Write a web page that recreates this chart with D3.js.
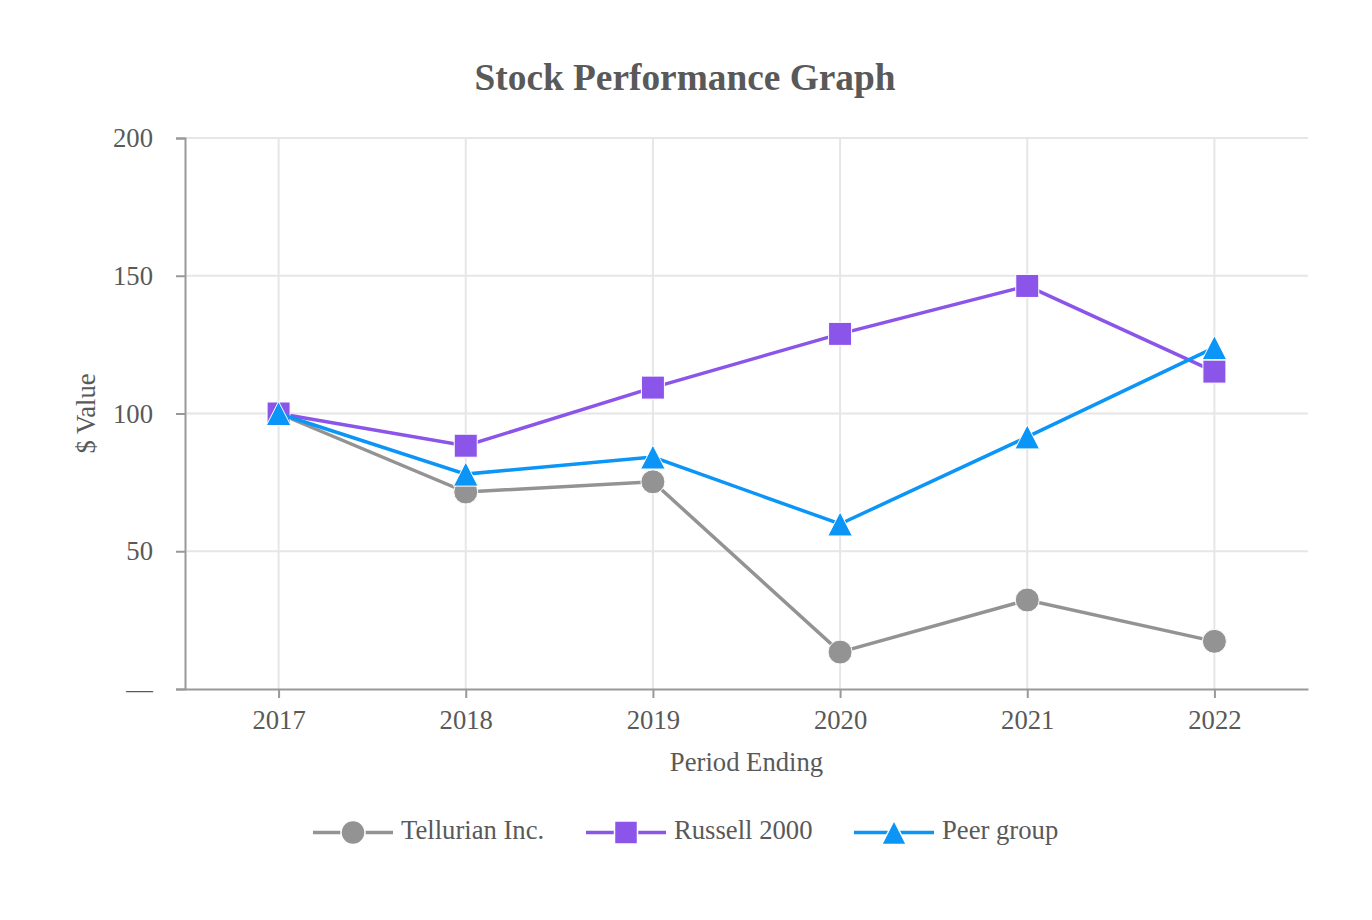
<!DOCTYPE html>
<html><head><meta charset="utf-8">
<script src="https://cdn.jsdelivr.net/npm/d3@7"></script>
<style>body{margin:0;background:#fff}svg{display:block}text{font-family:"Liberation Serif","Times New Roman",serif}</style>
</head><body><svg id="c" width="1372" height="920"></svg>
<script>
const years = ["2017","2018","2019","2020","2021","2022"];
const tellurian = [100, 71.5, 75.2, 13.4, 32.3, 17.3];
const russell = [100, 88.3, 109.4, 128.9, 146.3, 115.2];
const peer = [100, 78.0, 84.2, 59.9, 91.5, 123.9];
const yTicks = [0, 50, 100, 150, 200];
const seriesNames = ["Tellurian Inc.", "Russell 2000", "Peer group"];

const colors = ["#939393", "#8b55e9", "#0b95f7"];
const seriesVals = [tellurian, russell, peer];
const FS = 26.67;

function marker(s) {
  if (s === 0) return d3.symbol().type(d3.symbolCircle).size(Math.PI * 12 * 12)();
  if (s === 1) return "M-11.5,-11.5H11.5V11.5H-11.5Z";
  return "M0,-12L12.3,12L-12.3,12Z";
}

const svg = d3.select("#c");
const L = 185, R = 1308, T = 138, B = 689;
const x = d3.scalePoint().domain(years).range([L, R]).padding(0.5);
const y = d3.scaleLinear().domain([0, 200]).range([B, T]);
const txt = "#595959";

// title
svg.append("text").attr("x", 685).attr("y", 90).attr("text-anchor", "middle")
  .attr("font-size", 37.33).attr("font-weight", "bold").attr("fill", txt).text("Stock Performance Graph");

// grid
svg.append("g").selectAll("line").data(yTicks.filter(d => d > 0)).join("line")
  .attr("x1", L).attr("x2", R).attr("y1", d => y(d)).attr("y2", d => y(d))
  .attr("stroke", "#e6e6e6").attr("stroke-width", 2);
svg.append("g").selectAll("line").data(years).join("line")
  .attr("x1", d => x(d)).attr("x2", d => x(d)).attr("y1", T).attr("y2", B)
  .attr("stroke", "#e6e6e6").attr("stroke-width", 2);

// y axis
const ya = svg.append("g").attr("transform", `translate(${L},0)`)
  .call(d3.axisLeft(y).tickValues(yTicks).tickSize(9).tickPadding(23).tickFormat(d => d === 0 ? "—" : d));
ya.select(".domain").attr("stroke", "#999").attr("stroke-width", 2);
ya.selectAll(".tick line").attr("stroke", "#999").attr("stroke-width", 2);
ya.selectAll("text").attr("font-size", FS).attr("fill", txt).attr("font-family", '"Liberation Serif",serif');

// x axis
const xa = svg.append("g").attr("transform", `translate(0,${B})`)
  .call(d3.axisBottom(x).tickSize(9).tickPadding(12).tickSizeOuter(0));
xa.select(".domain").attr("stroke", "#999").attr("stroke-width", 2);
xa.selectAll(".tick line").attr("stroke", "#999").attr("stroke-width", 2);
xa.selectAll("text").attr("font-size", FS).attr("fill", txt).attr("font-family", '"Liberation Serif",serif');

// axis titles
svg.append("text").attr("x", (L + R) / 2).attr("y", 771).attr("text-anchor", "middle")
  .attr("font-size", FS).attr("fill", txt).text("Period Ending");
svg.append("text").attr("transform", `translate(95,${(T + B) / 2}) rotate(-90)`).attr("text-anchor", "middle")
  .attr("font-size", FS).attr("fill", txt).text("$ Value");

// series
const line = d3.line().x((d, i) => x(years[i])).y(d => y(d));
seriesVals.forEach((vals, s) => {
  const g = svg.append("g");
  g.append("path").attr("d", line(vals)).attr("fill", "none").attr("stroke", colors[s]).attr("stroke-width", 3.5);
  g.selectAll("path.m").data(vals).join("path").attr("class", "m")
    .attr("transform", (d, i) => `translate(${x(years[i])},${y(d)})`)
    .attr("d", marker(s))
    .attr("fill", colors[s]).attr("stroke", "#fff").attr("stroke-width", 1);
});

// legend
const legX = [313, 586, 854];
const lg = svg.append("g").attr("transform", "translate(0,832.5)");
seriesNames.forEach((n, s) => {
  const g = lg.append("g").attr("transform", `translate(${legX[s]},0)`);
  g.append("line").attr("x1", 0).attr("x2", 80).attr("stroke", colors[s]).attr("stroke-width", 3.5);
  g.append("path").attr("transform", "translate(40,0)").attr("d", marker(s))
    .attr("fill", colors[s]).attr("stroke", "#fff").attr("stroke-width", 1.5);
  g.append("text").attr("x", 88).attr("y", 6).attr("font-size", FS).attr("fill", txt).text(n);
});
</script></body></html>
